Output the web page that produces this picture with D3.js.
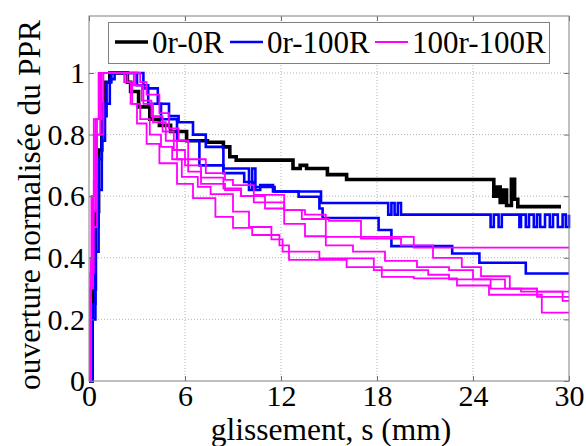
<!DOCTYPE html>
<html><head><meta charset="utf-8">
<script src="https://cdn.jsdelivr.net/npm/d3@7"></script>
<style>body{margin:0;background:#fff}svg{display:block}</style>
</head><body>
<script>
const xTicks = [0, 6, 12, 18, 24, 30];
const yTicks = [0, 0.2, 0.4, 0.6, 0.8, 1];
const yTickLabels = ["0", "0.2", "0.4", "0.6", "0.8", "1"];
const seriesNames = ["0r-0R", "0r-100R", "100r-100R"];
const seriesColors = ["#000000", "#0000ff", "#ff00ff"];
const xLabel = "glissement, s (mm)";
const yLabel = "ouverture normalisée du PPR";

// [s (mm), normalised opening] step curves
const black1 = [[0,0],[0.2,0.3],[0.4,0.55],[0.6,0.75],[0.8,0.9],[1.0,0.97],[1.3,1],[2.4,0.97],[2.6,0.94],[3.1,0.89],[3.8,0.85],[4.4,0.83],[5.1,0.81],[6.1,0.78],[7.4,0.775],[8.4,0.76],[8.8,0.728],[9.2,0.717],[12.75,0.69],[13.2,0.70],[13.6,0.69],[14.9,0.67],[16.1,0.654],[25.3,0.60],[25.5,0.63],[25.7,0.58],[25.9,0.62],[26.1,0.57],[26.4,0.655],[26.6,0.59],[26.8,0.566],[29.5,0.566]];
const blue1 = [[0,0],[0.2,0.25],[0.4,0.5],[0.6,0.72],[0.8,0.86],[1.1,0.97],[1.4,1],[3.4,0.95],[4.3,0.9],[5.0,0.86],[5.6,0.84],[6.5,0.80],[7.3,0.76],[8.4,0.69],[10.0,0.62],[10.2,0.69],[10.4,0.62],[10.7,0.636],[11.5,0.615],[14.5,0.578],[18.7,0.54],[18.9,0.578],[19.1,0.54],[19.3,0.578],[19.5,0.54],[25.1,0.5],[25.3,0.54],[25.6,0.5],[25.8,0.54],[26.9,0.5],[27.0,0.54],[27.3,0.5],[27.5,0.54],[27.8,0.5],[28.0,0.54],[28.2,0.5],[28.5,0.54],[28.8,0.5],[29.0,0.54],[29.3,0.5],[29.6,0.54],[29.8,0.5],[30,0.54]];
const blue2 = [[0,0],[0.2,0.2],[0.4,0.42],[0.6,0.62],[0.8,0.78],[1.0,0.9],[1.3,0.98],[1.6,1],[3.0,0.96],[3.7,0.9],[4.5,0.85],[5.5,0.78],[6.9,0.70],[8.4,0.675],[9.7,0.646],[10.3,0.63],[11.6,0.615],[13.1,0.598],[14.4,0.56],[14.6,0.529],[18.1,0.49],[18.9,0.438],[22.7,0.414],[24.4,0.384],[27.3,0.349],[30,0.349]];
const magenta1 = [[0,0],[0.1,0.35],[0.3,0.65],[0.5,0.85],[0.8,1],[3.2,0.97],[3.6,0.93],[4.4,0.87],[5.0,0.82],[5.6,0.78],[6.2,0.72],[7.3,0.675],[8.5,0.653],[9.0,0.636],[10.3,0.604],[12.2,0.555],[13.5,0.54],[14.8,0.468],[20.3,0.433],[30,0.433]];
const magenta2 = [[0,0],[0.1,0.3],[0.2,0.55],[0.4,0.8],[0.7,1],[2.8,0.96],[3.4,0.9],[4.0,0.84],[4.8,0.78],[5.5,0.72],[6.2,0.68],[7.0,0.64],[8.5,0.62],[9.5,0.6],[10.3,0.58],[12.2,0.555],[13.3,0.526],[15.0,0.52],[17.0,0.462],[19.5,0.44],[21.5,0.40],[23.3,0.37],[24.5,0.34],[26.3,0.30],[28,0.273],[30,0.273]];
const magenta3 = [[0,0],[0.1,0.35],[0.2,0.6],[0.4,0.85],[0.7,1],[2.2,0.97],[2.6,0.9],[3.2,0.85],[3.8,0.8],[4.5,0.76],[5.2,0.72],[5.8,0.663],[6.8,0.63],[7.6,0.607],[9.0,0.55],[10.0,0.50],[11.4,0.46],[12.1,0.42],[14.4,0.398],[17.8,0.36],[21.2,0.345],[22.5,0.33],[25.1,0.30],[27,0.29],[29.5,0.29],[29.6,0.26],[30,0.26]];
const magenta4 = [[0,0],[0.1,0.4],[0.15,0.6],[0.3,0.85],[0.6,1],[2.4,0.97],[2.7,0.9],[3.0,0.836],[3.6,0.77],[4.4,0.707],[5.5,0.64],[6.5,0.594],[7.9,0.533],[9.0,0.497],[10.2,0.474],[11.9,0.44],[12.5,0.393],[16.1,0.37],[18.3,0.338],[20.3,0.333],[23,0.31],[25,0.28],[28.3,0.222],[30,0.222]];
const magenta5 = [[0,0],[0.1,0.3],[0.25,0.5],[0.5,0.8],[0.9,1],[2.9,0.96],[3.3,0.91],[3.9,0.86],[4.6,0.81],[5.3,0.75],[6.0,0.70],[7.0,0.66],[8.4,0.625],[9.5,0.60],[11.0,0.56],[12.2,0.51],[13.5,0.47],[14.8,0.44],[16.5,0.42],[18.5,0.39],[20.5,0.37],[22.5,0.36],[24,0.33],[26,0.30],[28,0.29],[30,0.29]];

const groups = [
  {name: seriesNames[0], color: seriesColors[0], width: 3.6, curves: [black1]},
  {name: seriesNames[1], color: seriesColors[1], width: 2.6, curves: [blue1, blue2]},
  {name: seriesNames[2], color: seriesColors[2], width: 1.8, curves: [magenta1, magenta2, magenta3, magenta4, magenta5]}
];

const W = 586, H = 446;
const FONT = '"Liberation Serif"';
const svg = d3.select("body").append("svg").attr("width", W).attr("height", H);
const x = d3.scaleLinear().domain([0, 30]).range([89, 569]);
const y = d3.scaleLinear().domain([0, 1.185]).range([381, 16]);

// grid
const grid = svg.append("g").attr("stroke", "#b4b4b4").attr("stroke-dasharray", "1,2").attr("stroke-width", 1);
xTicks.slice(1, -1).forEach(t => grid.append("line").attr("x1", x(t)).attr("x2", x(t)).attr("y1", y(0)).attr("y2", y(1.185)));
yTicks.slice(1).forEach(t => grid.append("line").attr("x1", x(0)).attr("x2", x(30)).attr("y1", y(t)).attr("y2", y(t)));

// curves
const line = d3.line().x(d => x(d[0])).y(d => y(d[1])).curve(d3.curveStepAfter);
groups.forEach(g => {
  g.curves.forEach(c => {
    svg.append("path").attr("d", line(c)).attr("fill", "none")
      .attr("stroke", g.color).attr("stroke-width", g.width).attr("stroke-linejoin", "miter");
  });
});

// axes
function styleAxis(sel) {
  sel.selectAll(".domain").remove();
  sel.selectAll(".tick line").attr("stroke", "#707070");
  sel.selectAll("text").style("font-family", FONT).attr("font-size", 30).attr("fill", "#000");
}
svg.append("g").attr("transform", `translate(0,${y(0)})`)
  .call(d3.axisBottom(x).tickValues(xTicks).tickSizeInner(-5).tickSizeOuter(0).tickPadding(4).tickFormat(d3.format("d")))
  .call(styleAxis);
svg.append("g").attr("transform", `translate(0,${y(1.185)})`)
  .call(d3.axisTop(x).tickValues(xTicks).tickSizeInner(-5).tickSizeOuter(0).tickFormat(""))
  .call(styleAxis);
svg.append("g").attr("transform", `translate(${x(0)},0)`)
  .call(d3.axisLeft(y).tickValues(yTicks).tickSizeInner(-5).tickSizeOuter(0).tickPadding(4).tickFormat((d, i) => yTickLabels[i]))
  .call(styleAxis);
svg.append("g").attr("transform", `translate(${x(30)},0)`)
  .call(d3.axisRight(y).tickValues(yTicks).tickSizeInner(-5).tickSizeOuter(0).tickFormat(""))
  .call(styleAxis);

// frame
svg.append("rect").attr("x", x(0)).attr("y", y(1.185)).attr("width", x(30) - x(0)).attr("height", y(0) - y(1.185))
  .attr("fill", "none").attr("stroke", "#808080").attr("stroke-width", 1);

// axis labels
svg.append("text").attr("x", 331).attr("y", 440).attr("text-anchor", "middle")
  .style("font-family", FONT).attr("font-size", 31.5).text(xLabel);
svg.append("text").attr("transform", "translate(40,205) rotate(-90)").attr("text-anchor", "middle")
  .style("font-family", FONT).attr("font-size", 31.5).text(yLabel);

// legend
const lg = svg.append("g");
lg.append("rect").attr("x", 108.5).attr("y", 22.5).attr("width", 441).attr("height", 41)
  .attr("fill", "#fff").attr("stroke", "#808080").attr("stroke-width", 1);
const legX = [115, 230, 375];
groups.forEach((g, i) => {
  lg.append("line").attr("x1", legX[i]).attr("x2", legX[i] + 33).attr("y1", 42).attr("y2", 42)
    .attr("stroke", g.color).attr("stroke-width", g.width);
  lg.append("text").attr("x", legX[i] + 37).attr("y", 53).style("font-family", FONT).attr("font-size", 31).text(g.name);
});
</script>
</body></html>
